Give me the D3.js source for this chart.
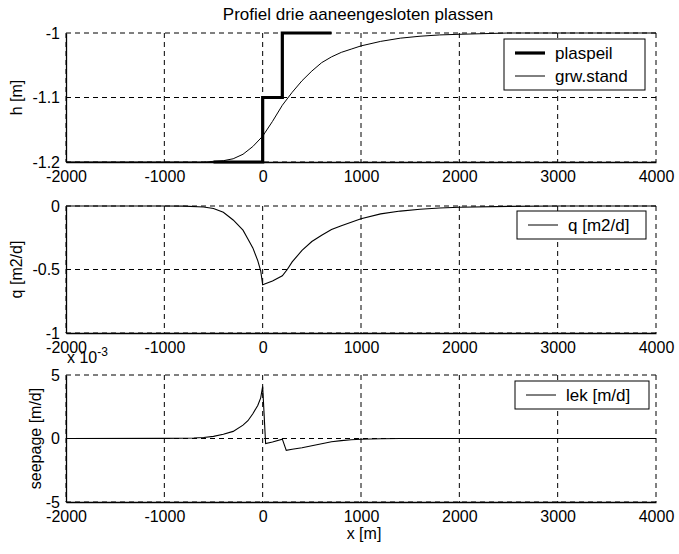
<!DOCTYPE html>
<html>
<head>
<meta charset="utf-8">
<script src="https://cdn.jsdelivr.net/npm/d3@7"></script>
<style>
  body { margin: 0; background: #fff; }
  text { font-family: "Liberation Sans", Arial, sans-serif; fill: #000; }
</style>
</head>
<body>
<div id="chart"></div>
<script>
// x axis shared by the three panels
var xTicks = [-2000, -1000, 0, 1000, 2000, 3000, 4000];

// panel 1: lake level (plaspeil) and groundwater head (grw.stand)
var plaspeilX = [-500, 0, 0, 200, 200, 700];
var plaspeilH = [-1.2, -1.2, -1.1, -1.1, -1.0, -1.0];
var grwX = [-2000, -1000, -600, -400, -300, -200, -100, 0, 100, 200, 300, 400, 500, 600, 700, 800, 900, 1000, 1200, 1400, 1600, 1800, 2000, 2500, 3000, 4000];
var grwH = [-1.2, -1.2, -1.2, -1.198, -1.195, -1.188, -1.176, -1.16, -1.137, -1.112, -1.092, -1.074, -1.059, -1.046, -1.037, -1.03, -1.025, -1.02, -1.013, -1.008, -1.005, -1.003, -1.002, -1.0, -1.0, -1.0];
var hTicks = [-1.2, -1.1, -1];

// panel 2: flux q [m2/d]
var qX = [-2000, -1000, -800, -600, -500, -400, -300, -200, -150, -100, -50, -20, 0, 100, 200, 250, 300, 400, 500, 600, 700, 800, 1000, 1200, 1400, 1600, 1800, 2000, 2500, 3000, 4000];
var qV = [0, 0, -0.001, -0.008, -0.02, -0.05, -0.11, -0.19, -0.26, -0.33, -0.43, -0.51, -0.62, -0.59, -0.55, -0.5, -0.44, -0.35, -0.28, -0.23, -0.185, -0.155, -0.1, -0.062, -0.04, -0.026, -0.016, -0.01, -0.003, 0, 0];
var qTicks = [-1, -0.5, 0];

// panel 3: seepage (lek) [m/d]
var lekX = [-2000, -1000, -700, -600, -500, -400, -300, -200, -150, -100, -50, -20, 0, 30, 100, 200, 240, 300, 400, 500, 600, 700, 800, 900, 1000, 1200, 1400, 2000, 4000];
var lekV = [0, 0.00001, 0.00004, 0.00008, 0.00017, 0.00033, 0.00056, 0.00105, 0.0014, 0.00195, 0.0026, 0.0032, 0.0041, -0.0004, -0.00028, -0.00005, -0.00093, -0.00085, -0.00073, -0.00057, -0.00041, -0.00026, -0.00017, -0.0001, -0.00006, -0.00002, 0, 0, 0];
var lekTicks = [-0.005, 0, 0.005];

var W = 679, H = 554;
var left = 66, right = 656;

var svg = d3.select("#chart").append("svg")
    .attr("width", W)
    .attr("height", H);

var x = d3.scaleLinear().domain([-2000, 4000]).range([left, right]);

function zip(xs, ys) {
  return xs.map(function(v, i) { return [v, ys[i]]; });
}

// plain hyphen minus like the original plot
function plain(d) { return String(+d.toFixed(3)); }

/** draws one MATLAB-like panel and returns its y scale */
function panel(top, bottom, yDomain, yTicks, yFormat, ylabel, ylabelX) {
  var y = d3.scaleLinear().domain(yDomain).range([bottom, top]);
  var g = svg.append("g");

  // dashed grid, also used as top and right border
  g.selectAll(".vgrid").data(xTicks).enter().append("line")
    .attr("x1", function(d) { return x(d); }).attr("x2", function(d) { return x(d); })
    .attr("y1", top).attr("y2", bottom)
    .attr("stroke", "#000").attr("stroke-width", 1).attr("stroke-dasharray", "5,4");
  g.selectAll(".hgrid").data(yTicks).enter().append("line")
    .attr("x1", left).attr("x2", right)
    .attr("y1", function(d) { return y(d); }).attr("y2", function(d) { return y(d); })
    .attr("stroke", "#000").attr("stroke-width", 1).attr("stroke-dasharray", "5,4");

  // solid left and bottom axes
  var xa = g.append("g").attr("transform", "translate(0," + bottom + ")")
    .call(d3.axisBottom(x).tickValues(xTicks).tickSize(0).tickPadding(9).tickFormat(plain));
  xa.select(".domain").attr("stroke-width", 1.3);
  var ya = g.append("g").attr("transform", "translate(" + left + ",0)")
    .call(d3.axisLeft(y).tickValues(yTicks).tickSize(0).tickPadding(6).tickFormat(yFormat));
  ya.select(".domain").attr("stroke-width", 1.3);
  g.selectAll(".tick text")
    .style("font-size", "16px")
    .style("font-family", "'Liberation Sans', Arial, sans-serif");

  g.append("text")
    .attr("transform", "translate(" + ylabelX + "," + ((top + bottom) / 2) + ") rotate(-90)")
    .attr("text-anchor", "middle")
    .attr("dy", "0.35em")
    .style("font-size", "16px")
    .text(ylabel);
  return y;
}

function legend(x0, y0, w, items) {
  var rowH = 23;
  var g = svg.append("g");
  g.append("rect")
    .attr("x", x0).attr("y", y0)
    .attr("width", w).attr("height", items.length * rowH + 5)
    .attr("fill", "#fff").attr("stroke", "#000").attr("stroke-width", 1);
  items.forEach(function(it, i) {
    var cy = y0 + 14 + i * rowH;
    g.append("line")
      .attr("x1", x0 + 11).attr("x2", x0 + 41)
      .attr("y1", cy).attr("y2", cy)
      .attr("stroke", "#000").attr("stroke-width", it.w);
    g.append("text")
      .attr("x", x0 + 51).attr("y", cy).attr("dy", "0.35em")
      .style("font-size", "17px")
      .text(it.name);
  });
}

var line = d3.line()
  .x(function(d) { return x(d[0]); });

// panel 1
var y1 = panel(33, 162, [-1.2, -1], hTicks, plain, "h [m]", 16);
line.y(function(d) { return y1(d[1]); });
svg.append("path").datum(zip(grwX, grwH))
  .attr("d", line).attr("fill", "none").attr("stroke", "#000").attr("stroke-width", 1);
svg.append("path").datum(zip(plaspeilX, plaspeilH))
  .attr("d", line).attr("fill", "none").attr("stroke", "#000").attr("stroke-width", 3.2);
legend(504, 39, 141, [{name: "plaspeil", w: 3.2}, {name: "grw.stand", w: 1}]);

// panel 2
var y2 = panel(206, 333, [-1, 0], qTicks, plain, "q [m2/d]", 16);
line.y(function(d) { return y2(d[1]); });
svg.append("path").datum(zip(qX, qV))
  .attr("d", line).attr("fill", "none").attr("stroke", "#000").attr("stroke-width", 1.1);
legend(517, 211, 129, [{name: "q [m2/d]", w: 1}]);

// panel 3
var y3 = panel(375, 502, [-0.005, 0.005], lekTicks, function(d) { return String(Math.round(d * 1000)); }, "seepage [m/d]", 35);
line.y(function(d) { return y3(d[1]); });
svg.append("path").datum(zip(lekX, lekV))
  .attr("d", line).attr("fill", "none").attr("stroke", "#000").attr("stroke-width", 1.1);
legend(515, 381, 134, [{name: "lek [m/d]", w: 1}]);

// exponent label of the seepage axis
var expo = svg.append("text").attr("x", 67).attr("y", 363).style("font-size", "16px");
expo.append("tspan").text("x 10");
expo.append("tspan").attr("dy", -7).style("font-size", "12px").text("-3");

// title and x label
svg.append("text")
  .attr("x", 358).attr("y", 20)
  .attr("text-anchor", "middle")
  .style("font-size", "17px")
  .text("Profiel drie aaneengesloten plassen");

svg.append("text")
  .attr("x", 364).attr("y", 539)
  .attr("text-anchor", "middle")
  .style("font-size", "16px")
  .text("x [m]");
</script>
</body>
</html>
